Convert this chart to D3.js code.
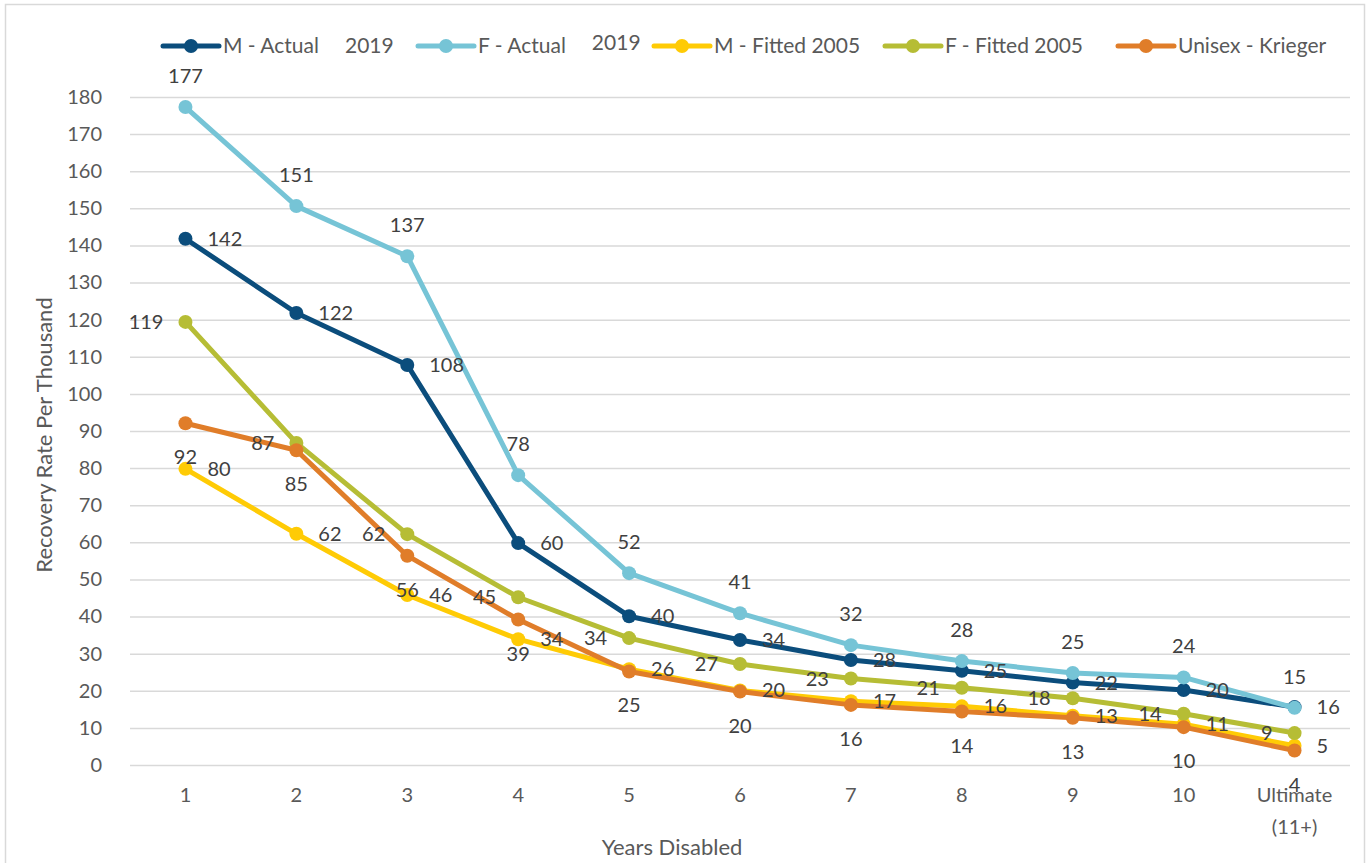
<!DOCTYPE html>
<html>
<head>
<meta charset="utf-8">
<script src="https://cdn.jsdelivr.net/npm/d3@7"></script>
<style>
  html, body { margin: 0; padding: 0; background: #fff; }
  svg { display: block; font-family: Lato, "Open Sans", sans-serif; }
</style>
</head>
<body>
<svg id="chart" width="1372" height="863"></svg>
<script>
// ---- data ----
const categories = ["1","2","3","4","5","6","7","8","9","10","Ultimate (11+)"];
const yTicks = [0,10,20,30,40,50,60,70,80,90,100,110,120,130,140,150,160,170,180];
const mActual2019   = [141.8, 121.8, 107.8, 59.8, 40.1, 33.7, 28.3, 25.4, 22.2, 20.2, 15.6];
const fActual2019   = [177.3, 150.6, 137.1, 78.1, 51.7, 40.9, 32.3, 28.0, 24.8, 23.6, 15.4];
const mFitted2005   = [79.8, 62.3, 45.8, 33.9, 25.8, 20.1, 17.2, 15.8, 13.3, 11.0, 5.2];
const fFitted2005   = [119.4, 86.8, 62.2, 45.2, 34.2, 27.2, 23.3, 20.8, 18.0, 13.8, 8.6];
const unisexKrieger = [92.1, 84.8, 56.4, 39.2, 25.2, 19.8, 16.2, 14.4, 12.7, 10.2, 3.9];

const seriesNames = ["M - Actual", "F - Actual", "M - Fitted 2005", "F - Fitted 2005", "Unisex - Krieger"];
const seriesSuffix = ["2019", "2019", "", "", ""];
const seriesColors = ["#0b4d7c", "#76c4d6", "#ffcb05", "#b6bd35", "#e07d29"];
const labelPos = ["right", "above", "right", "left", "below"];
const seriesValues = [mActual2019, fActual2019, mFitted2005, fFitted2005, unisexKrieger];

// ---- layout ----
const svg = d3.select("#chart");
const plot = { left: 130, right: 1350, top: 97, bottom: 765 };

const x = d3.scaleBand().domain(categories).range([plot.left, plot.right]).padding(0);
const cx = c => x(c) + x.bandwidth() / 2;
const y = d3.scaleLinear().domain([0, 180]).range([plot.bottom, plot.top]);

// outer border
svg.append("rect").attr("x", 5.5).attr("y", 4.5).attr("width", 1359).attr("height", 880)
  .attr("fill", "none").attr("stroke", "#d9d9d9").attr("stroke-width", 1.5);

// gridlines
const yAxis = d3.axisLeft(y).tickValues(yTicks).tickSize(-(plot.right - plot.left)).tickPadding(28)
  .tickFormat(d3.format("d"));
const gy = svg.append("g").attr("transform", `translate(${plot.left},0)`).call(yAxis);
gy.select(".domain").remove();
gy.selectAll(".tick line").attr("stroke", "#d9d9d9").attr("stroke-width", 1.5);
gy.selectAll(".tick text").attr("fill", "#595959").attr("font-size", 20)
  .attr("font-family", "Lato, sans-serif");

// x axis
const xAxis = d3.axisBottom(x).tickSize(0).tickPadding(0);
const gx = svg.append("g").attr("transform", `translate(0,${plot.bottom})`).call(xAxis);
gx.select(".domain").remove();
gx.selectAll(".tick text").remove();
gx.selectAll(".tick").each(function(d) {
  const t = d3.select(this).append("text").attr("fill", "#595959").attr("font-size", 20)
    .attr("font-family", "Lato, sans-serif").attr("text-anchor", "middle");
  const parts = d === "Ultimate (11+)" ? ["Ultimate", "(11+)"] : [d];
  parts.forEach((p, i) => t.append("tspan").attr("x", 0).attr("y", 37 + i * 32).text(p));
});

// axis titles
svg.append("text").attr("transform", `translate(52,435) rotate(-90)`)
  .attr("text-anchor", "middle").attr("fill", "#595959").attr("font-size", 22)
  .text("Recovery Rate Per Thousand");
svg.append("text").attr("x", 672).attr("y", 855).attr("text-anchor", "middle")
  .attr("fill", "#595959").attr("font-size", 22).text("Years Disabled");

// lines
const line = d3.line().x((d, i) => cx(categories[i])).y(d => y(d));
seriesValues.forEach((vals, si) => {
  const g = svg.append("g");
  g.append("path").datum(vals).attr("d", line).attr("fill", "none")
    .attr("stroke", seriesColors[si]).attr("stroke-width", 5).attr("stroke-linejoin", "round");
  g.selectAll("circle").data(vals).join("circle")
    .attr("cx", (d, i) => cx(categories[i])).attr("cy", d => y(d)).attr("r", 7)
    .attr("fill", seriesColors[si]);
});

// data labels
const fmt = d3.format(".0f");
seriesValues.forEach((vals, si) => {
  const pos = labelPos[si];
  svg.append("g").selectAll("text").data(vals).join("text")
    .attr("x", (d, i) => {
      const px = cx(categories[i]);
      return pos === "right" ? px + 22 : pos === "left" ? px - 22 : px;
    })
    .attr("y", d => {
      const py = y(d);
      return pos === "above" ? py - 31 : pos === "below" ? py + 34 : py;
    })
    .attr("dy", "0.35em")
    .attr("text-anchor", pos === "right" ? "start" : pos === "left" ? "end" : "middle")
    .attr("fill", "#404040").attr("font-size", 20)
    .text(d => fmt(d));
});

// legend
const legendX = [163, 418, 654, 885, 1118];
const legendY = 46;
const lg = svg.append("g");
seriesNames.forEach((name, i) => {
  const gx0 = legendX[i];
  lg.append("line").attr("x1", gx0).attr("x2", gx0 + 56).attr("y1", legendY).attr("y2", legendY)
    .attr("stroke", seriesColors[i]).attr("stroke-width", 5).attr("stroke-linecap", "round");
  lg.append("circle").attr("cx", gx0 + 28).attr("cy", legendY).attr("r", 7).attr("fill", seriesColors[i]);
  const t = lg.append("text").attr("x", gx0 + 60).attr("y", legendY).attr("dy", "0.35em")
    .attr("fill", "#595959").attr("font-size", 21).text(name);
  if (seriesSuffix[i]) {
    const w = t.node().getComputedTextLength();
    lg.append("text").attr("x", gx0 + 60 + w + 26).attr("y", legendY - (i === 1 ? 3 : 0)).attr("dy", "0.35em")
      .attr("fill", "#595959").attr("font-size", 21).text(seriesSuffix[i]);
  }
});
</script>
</body>
</html>
